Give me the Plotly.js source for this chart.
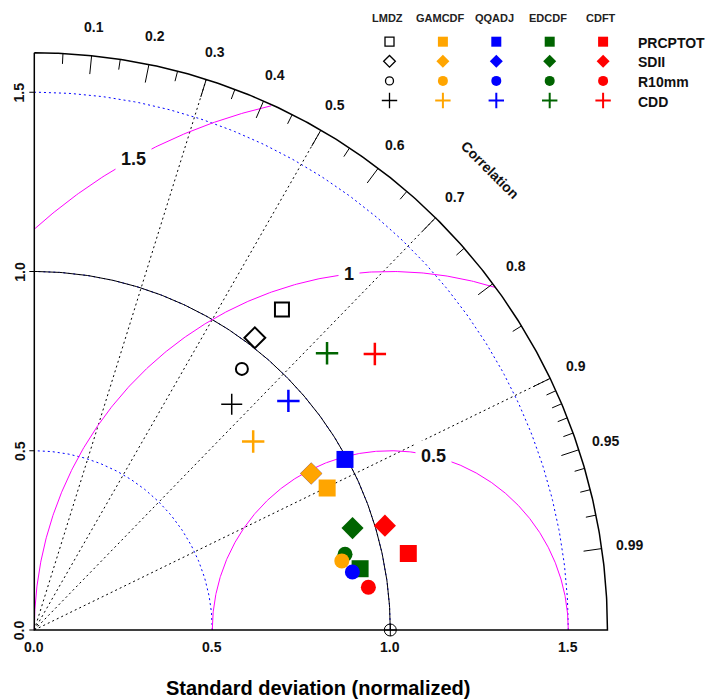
<!DOCTYPE html>
<html><head><meta charset="utf-8">
<script src="https://cdn.plot.ly/plotly-3.0.1.min.js"></script>
<style>html,body{margin:0;padding:0;background:#fff}</style>
</head><body><div id="chart" style="width:707px;height:700px"></div>
<script>
// ---- data ----
const models = ["LMDZ", "GAMCDF", "QQADJ", "EDCDF", "CDFT"];
const indices = ["PRCPTOT", "SDII", "R10mm", "CDD"];
const modelColors = ["#000000", "#FFA500", "#0000FF", "#006400", "#FF0000"];
// normalized standard deviation per index (PRCPTOT, SDII, R10mm, CDD)
const sdLMDZ   = [1.133, 1.024, 0.933, 0.839];
const sdGAMCDF = [0.913, 0.892, 0.885, 0.809];
const sdQQADJ  = [0.994, 0.892, 0.908, 0.958];
const sdEDCDF  = [0.931, 0.938, 0.898, 1.128];
const sdCDFT   = [1.072, 1.027, 0.946, 1.228];
// correlation per index
const corLMDZ   = [0.614, 0.605, 0.625, 0.661];
const corGAMCDF = [0.901, 0.872, 0.976, 0.760];
const corQQADJ  = [0.878, 0.872, 0.984, 0.745];
const corEDCDF  = [0.983, 0.953, 0.972, 0.729];
const corCDFT   = [0.980, 0.959, 0.992, 0.779];
const refSD = 1.0;
const sdTicks = [0, 0.5, 1.0, 1.5];
const sdTickText = ["0.0", "0.5", "1.0", "1.5"];
const corMajor = [0.1, 0.2, 0.3, 0.4, 0.5, 0.6, 0.7, 0.8, 0.9, 0.95, 0.99];
const corMajorText = ["0.1", "0.2", "0.3", "0.4", "0.5", "0.6", "0.7", "0.8", "0.9", "0.95", "0.99"];
const corMinor = [0.05, 0.15, 0.25, 0.35, 0.45, 0.55, 0.65, 0.75, 0.85, 0.91, 0.92, 0.93, 0.94, 0.96, 0.97, 0.98];
const corRays = [0.3, 0.5, 0.7, 0.9];
const sdArcs = [0.5, 1.0, 1.5];
const rmsLevels = [0.5, 1.0, 1.5];
const rmsText = ["0.5", "1", "1.5"];

// ---- layout constants ----
const W = 707, H = 700, OX = 34.3, OY = 630, SX = 356, SY = 358.5;
const maxSD = 1.61;
const FONT = "Liberation Sans, Arial, sans-serif";
const sdData = [sdLMDZ, sdGAMCDF, sdQQADJ, sdEDCDF, sdCDFT];
const corData = [corLMDZ, corGAMCDF, corQQADJ, corEDCDF, corCDFT];

function arcPts(cx, cy, r, a0, a1, n) {
  const x = [], y = [];
  for (let i = 0; i <= n; i++) {
    const t = a0 + (a1 - a0) * i / n;
    x.push(cx + r * Math.cos(t)); y.push(cy + r * Math.sin(t));
  }
  return {x, y};
}
const traces = [];
// sd arcs (blue dotted)
{
  const x = [], y = [];
  sdArcs.forEach(r => { const a = arcPts(0, 0, r, 0, Math.PI / 2, 200); x.push(...a.x, null); y.push(...a.y, null); });
  traces.push({x, y, mode: "lines", line: {color: "#0000FF", width: 1, dash: "2px,3px"}, hoverinfo: "skip"});
}
// correlation rays
{
  const x = [], y = [];
  corRays.forEach(c => { const s = Math.sqrt(1 - c * c); x.push(0, maxSD * c, null); y.push(0, maxSD * s, null); });
  traces.push({x, y, mode: "lines", line: {color: "#000000", width: 1, dash: "2px,3px"}, hoverinfo: "skip"});
}
// reference sd arc
{
  const a = arcPts(0, 0, refSD, 0, Math.PI / 2, 200);
  traces.push({x: a.x, y: a.y, mode: "lines", line: {color: "#000000", width: 1}, hoverinfo: "skip"});
}
// centered RMS arcs (magenta)
{
  const x = [], y = [];
  rmsLevels.forEach(g => {
    const a = arcPts(refSD, 0, g, 0, Math.PI, 600);
    for (let i = 0; i < a.x.length; i++) {
      if (a.x[i] >= 0 && a.x[i] * a.x[i] + a.y[i] * a.y[i] <= maxSD * maxSD) { x.push(a.x[i]); y.push(a.y[i]); }
    }
    x.push(null); y.push(null);
  });
  traces.push({x, y, mode: "lines", line: {color: "#FF00FF", width: 1}, hoverinfo: "skip"});
}
// frame: axes + outer arc
{
  const a = arcPts(0, 0, maxSD, 0, Math.PI / 2, 300);
  traces.push({x: [0, 0, maxSD, ...a.x], y: [maxSD, 0, 0, ...a.y], mode: "lines", line: {color: "#000000", width: 1.5}, hoverinfo: "skip"});
}
// correlation ticks and sd ticks
{
  const x = [], y = [];
  corMajor.forEach(c => { const s = Math.sqrt(1 - c * c); x.push(maxSD * c, maxSD * 0.968 * c, null); y.push(maxSD * s, maxSD * 0.968 * s, null); });
  corMinor.forEach(c => { const s = Math.sqrt(1 - c * c); x.push(maxSD * c, maxSD * 0.982 * c, null); y.push(maxSD * s, maxSD * 0.982 * s, null); });
  sdTicks.forEach(v => { x.push(0, -5 / SX, null); y.push(v, v, null); });
  traces.push({x, y, mode: "lines", line: {color: "#000000", width: 1}, hoverinfo: "skip"});
}
// reference point
traces.push({x: [refSD], y: [0], mode: "markers", marker: {symbol: "circle-cross-open", size: 12, opacity: 1, color: "#000", line: {color: "#000", width: 1}}, hoverinfo: "skip"});

// model points (drawn in reverse order so LMDZ ends on top)
const symFilled = ["square", "diamond", "circle", "cross-thin"];
const symOpen = ["square-open", "diamond-open", "circle-open", "cross-thin-open"];
for (let m = models.length - 1; m >= 0; m--) {
  const sd = sdData[m], cr = corData[m];
  const x = sd.map((s, i) => s * cr[i]);
  const y = sd.map((s, i) => s * Math.sqrt(1 - cr[i] * cr[i]));
  const isRef = m === 0;
  traces.push({
    x, y, mode: "markers", name: models[m], text: indices, hoverinfo: "text+name",
    marker: {
      symbol: isRef ? symOpen : symFilled,
      size: isRef ? [14, 16, 12, 15] : [17, 17, 15, 16],
      opacity: 1,
      color: modelColors[m],
      line: {color: modelColors[m], width: isRef ? [2, 2, 2, 1.5] : [0, 0, 0, 2.5]}
    }
  });
}
// legend grid (pixel overlay axes)
const legX0 = 389.5, legDX = 53.4, legY0 = 41.7, legDY = 19.6, legLabelX = 636;
models.forEach((mname, m) => {
  const isRef = m === 0;
  traces.push({
    x: indices.map(() => legX0 + m * legDX), y: indices.map((_, j) => legY0 + j * legDY),
    xaxis: "x2", yaxis: "y2", mode: "markers", hoverinfo: "skip",
    marker: {
      symbol: isRef ? symOpen : symFilled,
      size: isRef ? [9, 9, 8, 11] : [10, 10, 10, 11],
      opacity: 1,
      color: modelColors[m],
      line: {color: modelColors[m], width: isRef ? [1.3, 1.3, 1.3, 1.3] : [0, 0, 0, 2]}
    }
  });
});

const ann = [];
// correlation labels
corMajor.forEach((c, i) => {
  const s = Math.sqrt(1 - c * c);
  ann.push({x: 1.69 * c, y: 1.69 * s, text: corMajorText[i], showarrow: false, xanchor: "center", yanchor: "middle",
    font: {family: FONT, size: 14, color: "#111", weight: "bold"}});
});
ann.push({x: 1.814 * Math.cos(45.07 * Math.PI / 180), y: 1.814 * Math.sin(45.07 * Math.PI / 180), text: "Correlation", textangle: 45,
  showarrow: false, font: {family: FONT, size: 14, color: "#111", weight: "bold"}});
// sd tick labels
sdTicks.forEach((v, i) => {
  ann.push({x: v, y: 0, yshift: -17, text: sdTickText[i], showarrow: false, xanchor: "center", yanchor: "middle",
    font: {family: FONT, size: 14, color: "#111", weight: "bold"}});
  ann.push({x: 0, y: v, xshift: -15, text: sdTickText[i], showarrow: false, textangle: -90, xanchor: "center", yanchor: "middle",
    font: {family: FONT, size: 14, color: "#111", weight: "bold"}});
});
// RMS labels
const rmsLabelAngles = [76, 96.7, 118.8];
rmsLevels.forEach((g, i) => {
  const t = rmsLabelAngles[i] * Math.PI / 180;
  ann.push({x: refSD + g * Math.cos(t), y: g * Math.sin(t), text: rmsText[i], showarrow: false, bgcolor: "#ffffff", borderpad: 5,
    xanchor: "center", yanchor: "middle", font: {family: FONT, size: 18, color: "#111", weight: "bold"}});
});
// axis title
ann.push({x: 0.796, y: 0, yshift: -58, text: "Standard deviation (normalized)", showarrow: false, xanchor: "center", yanchor: "middle",
  font: {family: FONT, size: 20, color: "#000", weight: "bold"}});
// legend headers and labels
models.forEach((mname, m) => {
  ann.push({x: legX0 + m * legDX - 2, y: 18, xref: "x2", yref: "y2", text: mname, showarrow: false, xanchor: "center", yanchor: "middle",
    font: {family: FONT, size: 11, color: "#222", weight: "bold"}});
});
indices.forEach((iname, j) => {
  ann.push({x: legLabelX, y: legY0 + j * legDY + 1, xref: "x2", yref: "y2", text: iname, showarrow: false, xanchor: "left", yanchor: "middle",
    font: {family: FONT, size: 14, color: "#111", weight: "bold"}});
});

const layout = {
  width: W, height: H, margin: {l: 0, r: 0, t: 0, b: 0}, showlegend: false,
  paper_bgcolor: "#fff", plot_bgcolor: "#fff",
  xaxis: {range: [-OX / SX, (W - OX) / SX], visible: false, fixedrange: true},
  yaxis: {range: [-(H - OY) / SY, OY / SY], visible: false, fixedrange: true},
  xaxis2: {range: [0, W], overlaying: "x", visible: false, fixedrange: true},
  yaxis2: {range: [H, 0], overlaying: "y", visible: false, fixedrange: true},
  annotations: ann
};
Plotly.newPlot("chart", traces, layout, {displayModeBar: false, staticPlot: true});
</script></body></html>
